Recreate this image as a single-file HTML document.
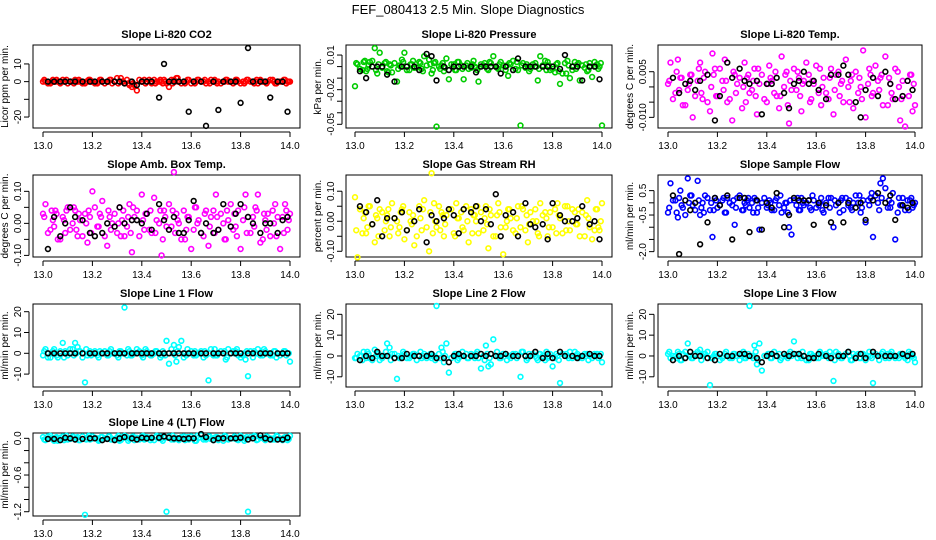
<!DOCTYPE html>
<html><head><meta charset="utf-8">
<style>
html,body{margin:0;padding:0;background:#fff;}
svg{display:block;font-family:"Liberation Sans",sans-serif;}
</style></head>
<body>
<svg id="chart" width="936" height="540" viewBox="0 0 936 540" xmlns="http://www.w3.org/2000/svg">
<text x="468" y="14" text-anchor="middle" font-size="13">FEF_080413  2.5 Min. Slope Diagnostics</text>
</svg>
<script>
const xTicks = [13.0, 13.2, 13.4, 13.6, 13.8, 14.0];
const xTickLabels = ["13.0", "13.2", "13.4", "13.6", "13.8", "14.0"];
const xs = [13.00,13.01,13.03,13.04,13.05,13.06,13.08,13.09,13.10,13.12,
13.13,13.14,13.15,13.17,13.18,13.19,13.20,13.22,13.23,13.24,
13.26,13.27,13.28,13.30,13.31,13.32,13.33,13.35,13.36,13.37,
13.38,13.40,13.41,13.42,13.44,13.45,13.46,13.48,13.49,13.50,
13.51,13.53,13.54,13.55,13.56,13.58,13.59,13.60,13.62,13.63,
13.64,13.66,13.67,13.68,13.70,13.71,13.72,13.74,13.75,13.76,
13.78,13.79,13.80,13.82,13.83,13.84,13.86,13.87,13.88,13.90,
13.91,13.92,13.94,13.95,13.96,13.98,13.99,14.00];
const xs2 = [13.005,13.02,13.035,13.045,13.055,13.07,13.085,13.095,13.11,13.125,
13.135,13.145,13.16,13.175,13.185,13.195,13.21,13.225,13.235,13.25,
13.265,13.275,13.29,13.305,13.315,13.325,13.34,13.345,13.355,13.365,
13.39,13.405,13.415,13.43,13.435,13.455,13.47,13.475,13.485,13.495,
13.52,13.525,13.535,13.545,13.57,13.575,13.585,13.61,13.615,13.625,
13.65,13.655,13.675,13.69,13.695,13.705,13.73,13.735,13.745,13.77,
13.775,13.785,13.81,13.815,13.825,13.85,13.855,13.865,13.89,13.895,
13.905,13.93,13.935,13.945,13.97,13.975,13.985,13.995];
const xb = [13.02,13.045,13.07,13.09,13.11,13.13,13.16,13.19,13.21,13.24,
13.26,13.29,13.31,13.33,13.36,13.38,13.40,13.42,13.44,13.47,
13.49,13.51,13.53,13.55,13.57,13.59,13.61,13.64,13.66,13.69,
13.71,13.73,13.76,13.78,13.80,13.83,13.85,13.88,13.90,13.92,
13.95,13.97,13.99];

const co2C = [0,0,-1,1,0,0,1,0,-1,0, 1,0,0,-1,0,1,0,-1,1,0, 0,1,-1,2,0,0,-1,-2,-3,-2, -5,0,1,0,-1,1,0,0,1,-1, -3,1,2,0,-1,0,1,-1,0,1, 0,-1,0,1,0,0,-1,1,0,0, 1,0,-1,0,1,0,0,-1,1,0, 0,1,-1,0,0,1,0,0];
const co2C2 = [1,-1,0,0,1,-1,0,1,0,-1, 0,1,-1,0,1,0,-1,0,1,-1, 0,1,0,-1,2,0,1,-1,0,-1, 1,0,-1,1,0,-1,0,1,-1,0, 1,-1,0,2,0,-1,1,0,-1,1, 0,1,-1,0,1,-1,0,0,1,-1, 0,1,0,-1,1,0,-1,1,0,0, -1,1,0,-1,0,1,-1,0];
const co2B = [0,0,0,0,0,0,0,0,0,0, 0,0,0,-1,0,-2,0,0,0,-9, 10,0,0,0,0,-17,0,0,-25,0, -16,0,0,0,-12,19,0,0,0,-9, 0,0,-17];
const presC = [-0.017,0.002,-0.003,0.005,-0.002,0.004,0.016,-0.006,0.012,0.003, -0.004,0.002,-0.005,-0.013,0.001,0.006,0.012,-0.003,0.002,-0.001, 0.004,-0.002,0.009,0.006,-0.006,0.003,-0.052,0.001,-0.004,0.007, -0.011,0.002,-0.003,0.004,-0.011,0.001,-0.002,0.005,-0.001,-0.013, 0.002,0.000,-0.003,0.003,0.009,-0.002,0.004,0.001,-0.008,0.002, 0.005,-0.003,-0.051,0.003,0.000,-0.002,0.002,-0.012,0.009,0.001, 0.004,-0.003,-0.002,0.003,-0.015,-0.006,0.005,-0.010,-0.003,0.002, -0.012,0.001,-0.004,0.003,-0.009,0.002,0.000,-0.051];
const presC2 = [0.003,-0.002,0.004,-0.004,0.001,0.005,-0.003,0.002,-0.001,0.004, -0.005,0.001,0.003,-0.002,0.000,0.004,-0.003,0.002,0.005,-0.001, 0.003,-0.004,0.001,0.002,-0.003,0.004,0.000,-0.002,0.003,-0.001, 0.002,-0.003,0.004,0.001,-0.002,0.003,-0.001,0.002,0.000,-0.003, 0.001,0.003,-0.002,0.004,0.000,-0.001,0.002,-0.003,0.001,0.003, -0.002,0.004,0.001,-0.001,0.002,-0.004,0.003,0.000,-0.002,0.005, -0.003,0.001,-0.005,0.002,-0.004,0.003,-0.006,0.001,0.004,-0.002, 0.003,-0.001,0.002,-0.003,0.004,0.000,-0.002,0.003];
const presB = [-0.004,-0.010,0,0,0,-0.007,-0.013,0,0,0, -0.003,0.011,0.009,-0.012,0,-0.003,0,0,0,0, -0.005,0,0,0,0,-0.006,0,-0.003,0.007,0, 0,0,0,0,0,-0.002,0.010,0,0,-0.012, 0,0,-0.011];
const tempC = [0.001,0.008,-0.002,0.009,0.003,-0.006,-0.001,0.004,-0.010,0.002, 0.008,-0.004,0.005,-0.008,0.011,0.006,-0.003,0.002,0.009,-0.005, -0.011,0.004,0.001,-0.007,0.008,0.003,-0.002,0.006,-0.009,0.001, 0.004,-0.005,0.007,0.002,-0.003,-0.007,0.010,0.005,-0.012,-0.001, 0.006,0.003,-0.008,0.002,0.008,-0.004,0.001,0.007,-0.006,0.003, -0.002,0.006,-0.009,0.004,0.001,-0.005,0.009,0.002,-0.007,0.005, 0.000,0.012,-0.010,0.004,-0.002,0.007,0.003,-0.006,0.010,0.001, -0.004,0.006,-0.011,0.002,-0.013,0.004,-0.008,-0.006];
const tempC2 = [0.002,-0.004,0.005,-0.001,0.003,-0.006,0.001,0.004,-0.003,0.006, -0.002,0.003,-0.005,0.000,0.004,-0.003,0.006,-0.001,0.002,-0.004, 0.005,-0.002,0.003,0.000,-0.005,0.004,-0.001,0.002,-0.003,0.006, -0.004,0.001,0.003,-0.002,0.005,-0.003,0.000,0.004,-0.006,0.002, -0.001,0.005,-0.003,0.001,0.004,-0.005,0.002,-0.002,0.006,0.000, -0.004,0.003,-0.001,0.005,-0.003,0.002,0.000,-0.005,0.004,-0.002, 0.003,-0.004,0.001,0.006,-0.003,0.002,-0.001,0.004,-0.006,0.003, -0.002,0.005,0.000,-0.004,0.002,-0.003,0.004,0.001];
const tempB = [0.003,-0.002,0.001,0.002,-0.001,0.002,0.004,-0.011,-0.003,0.008, 0.003,0.006,0.002,0.001,0.002,-0.009,0.001,0.001,0.003,-0.002, -0.007,0.001,0.002,0.005,0.001,0.002,-0.001,-0.004,0.004,0.004, 0.007,0.004,-0.005,-0.010,-0.001,0.003,-0.003,0.005,0.001,-0.004, -0.003,0.002,-0.001];
const ambC = [0.03,0.06,-0.02,0.01,0.04,-0.05,0.02,-0.03,0.05,0.00, 0.04,-0.04,0.01,0.03,-0.06,0.02,0.10,-0.01,0.03,0.07, -0.07,0.02,0.00,-0.03,0.05,0.01,-0.04,0.06,-0.09,0.02, 0.04,0.09,-0.02,0.03,-0.03,0.08,0.01,-0.10,0.04,-0.01, 0.06,0.16,0.03,0.00,-0.05,-0.02,0.02,-0.08,0.05,0.01, -0.03,0.04,-0.07,0.02,0.09,-0.02,0.03,-0.05,0.01,0.06, -0.01,0.04,-0.08,0.09,0.02,-0.03,0.05,0.09,-0.06,0.01, 0.03,-0.04,0.06,0.02,-0.08,0.06,-0.02,0.03];
const ambC2 = [0.02,-0.03,0.04,-0.01,0.03,-0.05,0.01,0.04,-0.02,0.05, -0.02,0.03,-0.04,0.00,0.04,-0.03,0.05,-0.01,0.02,-0.04, 0.04,-0.02,0.03,0.00,-0.04,0.04,-0.01,0.02,-0.03,0.05, -0.04,0.01,0.03,-0.02,0.04,-0.03,0.00,0.04,-0.05,0.02, -0.01,0.04,-0.03,0.01,0.04,-0.05,0.02,-0.02,0.05,0.00, -0.04,0.03,-0.01,0.04,-0.03,0.02,0.00,-0.05,0.04,-0.02, 0.03,-0.04,0.01,0.05,-0.03,0.02,-0.01,0.04,-0.05,0.03, -0.02,0.04,0.00,-0.04,0.02,-0.03,0.04,0.01];
const ambB = [-0.08,0.02,-0.04,0.00,0.05,0.02,0.01,-0.03,-0.04,-0.03, 0.00,-0.01,0.05,0.00,0.01,0.01,0.00,0.03,-0.02,0.06, 0.01,-0.02,0.02,-0.03,-0.03,0.01,0.07,-0.03,0.00,-0.03, -0.02,0.06,-0.01,0.03,0.06,0.02,0.00,-0.03,0.00,0.00, -0.03,0.01,0.02];
const rhC = [0.08,-0.12,-0.04,0.03,-0.02,0.05,-0.07,0.01,0.04,-0.03, 0.02,-0.05,0.06,0.00,-0.02,0.04,-0.06,0.03,-0.01,-0.08, 0.05,-0.03,0.07,-0.10,0.16,0.06,-0.02,0.03,-0.05,0.02, 0.04,-0.04,0.06,0.01,-0.03,0.05,-0.07,0.02,0.00,-0.04, 0.03,0.05,-0.09,0.02,-0.05,0.06,-0.02,-0.11,0.04,0.01, -0.03,0.05,-0.02,0.04,-0.07,0.03,0.00,-0.04,0.06,0.02, -0.05,0.03,-0.02,0.06,0.01,-0.04,0.05,-0.03,0.04,-0.01, -0.05,0.03,0.07,-0.02,-0.06,0.04,-0.03,0.06];
const rhC2 = [-0.03,0.04,0.01,-0.04,0.05,-0.01,0.02,-0.05,0.03,0.00, 0.04,-0.02,0.01,-0.04,0.03,0.05,-0.03,0.00,0.02,-0.05, 0.01,0.04,-0.02,0.03,-0.04,0.00,0.05,-0.03,0.02,-0.01, 0.04,-0.05,0.01,0.03,-0.02,0.00,0.04,-0.04,0.02,0.05, -0.03,0.01,-0.01,0.04,-0.05,0.02,0.03,-0.02,0.00,0.04, -0.04,0.01,0.05,-0.03,0.02,-0.01,0.04,0.00,-0.05,0.03, 0.01,-0.02,0.04,-0.04,0.02,0.05,-0.03,0.00,0.03,-0.01, 0.04,-0.05,0.02,0.01,-0.03,0.04,-0.02,0.00];
const rhB = [0.05,0.03,-0.01,0.07,-0.05,0.01,0.01,0.03,-0.03,0.00, 0.04,-0.07,0.02,0.00,0.01,0.04,0.02,-0.04,0.04,0.03, 0.05,0.00,0.04,-0.01,0.09,-0.05,0.02,0.03,-0.05,0.06, -0.01,-0.02,-0.01,-0.06,0.06,0.02,0.00,0.00,0.01,0.05, -0.01,0.00,-0.06];
const sampC = [-0.4,0.8,0.1,-0.6,0.5,-0.2,1.0,0.3,-0.1,0.9, -0.5,0.0,0.3,-0.3,-1.4,0.2,-0.2,0.1,-0.4,0.2, -0.1,-0.9,0.2,-0.3,0.0,0.1,-0.2,0.2,-0.4,-1.1, 0.0,-0.2,0.1,-0.3,0.2,-0.1,-0.4,0.0,-1.0,-1.3, 0.1,-0.3,0.2,-0.1,0.0,-0.3,0.1,-0.2,0.2,-0.4, 0.0,0.2,-1.0,-0.1,0.1,-0.3,0.2,-0.2,0.0,0.3, -0.4,0.1,-0.8,0.2,-1.4,0.3,0.8,1.0,0.6,-0.2, 0.4,-1.5,-0.1,0.2,-0.3,0.1,-0.2,0.0];
const sampC2 = [-0.2,0.1,-0.4,0.2,-0.1,-0.5,0.0,0.3,-0.3,0.1, -0.2,-0.4,0.2,0.0,-0.3,0.1,-0.1,0.2,-0.4,0.0, 0.1,-0.2,0.3,-0.3,-0.1,0.2,0.0,-0.4,0.1,-0.2, 0.2,-0.1,0.0,-0.3,0.1,0.3,-0.2,0.0,-0.4,0.1, -0.1,0.2,-0.3,0.0,0.1,-0.2,0.3,-0.1,0.0,-0.3, 0.2,-0.2,0.1,0.0,-0.4,0.2,-0.1,0.1,-0.3,0.0, 0.3,-0.2,0.1,-0.1,0.4,0.0,-0.3,0.2,-0.2,0.1, 0.0,-0.4,0.2,-0.1,0.1,-0.3,0.2,-0.1];
const sampB = [0.3,-2.1,0.1,-0.3,0.0,-1.7,-0.8,0.2,-0.1,0.3, -1.5,0.2,0.2,-1.2,0.1,-1.1,0.0,-0.2,0.4,-1.0, -0.5,0.2,0.1,0.1,0.1,-0.9,0.0,-0.1,-0.8,0.0, -0.8,0.0,-0.2,0.0,-0.7,0.1,0.4,0.0,0.3,-0.7, -0.1,-0.2,0.0];
const l1C = [-1,2,-2,1,0,-2,5,1,-1,2, 5,3,1,-14,-1,1,0,-1,1,0, -1,1,0,-1,1,0,22,1,-1,0, 2,-1,0,1,-1,0,1,-1,0,6, -5,4,-4,3,6,-1,0,1,-1,0, 1,-1,-13,2,-1,0,1,-3,2,0, 1,-1,-2,-3,-11,1,0,2,-1,1, 0,-1,1,0,-1,1,0,-4];
const l1C2 = [1,-2,0,2,-1,1,-2,0,2,-1, 0,1,-2,2,0,-1,1,-2,0,1, -1,2,0,-2,1,0,-1,2,-1,0, 1,-2,2,0,-1,1,0,-2,1,-1, 2,0,-1,1,-2,0,2,-1,1,0, -2,1,0,-1,2,-1,0,1,-2,1, 0,2,-1,0,1,-2,1,0,-1,2, 0,-1,1,-2,0,1,-1,0];
const l1B = [0,0,0,0,0,0,0,0,0,0, 0,0,0,0,0,0,0,0,0,0, 0,0,0,0,0,0,0,0,0,0, 0,0,0,0,0,0,0,0,0,0, 0,0,0];
const l2C = [-1,1,-2,0,2,-1,3,1,-2,0, 6,4,1,-11,-1,0,1,-1,0,1, 0,-1,1,0,-1,0,24,4,-3,6, -8,0,1,-1,0,1,-1,0,1,-1, -6,5,-5,-4,8,0,-1,1,0,-1, 1,0,-10,2,-1,0,1,-2,1,0, -1,1,-5,0,-13,1,0,2,-1,1, 0,-1,1,0,-1,1,0,-3];
const l2C2 = [-1,0,2,-1,1,-2,0,1,-1,2, 0,-2,1,0,-1,2,-1,0,1,-2, 2,0,-1,1,0,-2,1,-1,2,0, -1,1,-2,0,2,-1,1,0,-1,2, 0,-2,1,-1,0,2,-1,1,-2,0, 1,-1,2,0,-2,1,0,-1,1,-2, 2,0,-1,1,-2,0,1,-1,2,0, -1,1,0,-2,1,0,-1,1];
const l2B = [-2,0,-1,2,0,0,-1,-1,1,0, 0,0,1,-1,-1,-3,0,1,0,0, 0,1,0,1,0,0,1,0,0,0, 0,2,-1,1,-1,2,0,0,-1,0, 1,0,0];
const l3C = [1,-1,0,2,-2,1,6,0,-1,2, 3,0,1,-14,-1,1,0,-1,1,0, -1,1,0,1,-1,0,24,5,-4,6, -7,0,1,-1,0,1,-1,0,1,0, 7,1,-1,0,-2,1,0,-1,1,0, 1,0,-12,2,-1,0,1,-2,1,0, -1,1,-2,0,-13,1,0,2,-1,1, 0,-1,1,0,-1,1,0,-3];
const l3C2 = [2,0,-1,1,-2,2,0,-1,1,0, -2,1,2,-1,0,1,-2,0,2,-1, 1,0,-2,2,-1,1,0,-1,2,-2, 0,1,-1,2,0,-2,1,0,-1,2, 1,-1,0,2,-2,1,0,-1,2,0, -1,2,-2,1,0,-1,2,0,-2,1, -1,1,0,2,-1,0,-2,1,1,-1, 2,0,-1,1,-2,2,0,-1];
const l3B = [-2,0,-1,2,0,0,-1,-2,1,0, 0,1,1,0,-1,-3,0,1,0,1, 0,1,1,0,-1,-1,1,0,-1,0, 0,2,-1,1,-1,2,0,0,0,0, 1,0,1];
const l4C = [0.02,-0.03,0.04,-0.02,0.01,-0.04,0.03,0.00,-0.02,0.03, -0.01,0.02,-0.03,-1.25,0.01,-0.02,0.03,0.00,-0.03,0.02, -0.01,0.03,-0.02,0.01,-0.04,0.02,0.04,-0.01,0.02,-0.03, 0.01,0.03,-0.02,0.02,0.00,-0.03,0.04,-0.01,0.02,-1.20, 0.03,-0.02,0.01,-0.03,0.02,0.00,-0.02,0.03,-0.04,0.01, 0.05,-0.02,0.03,-0.01,0.02,-0.03,0.01,0.03,-0.02,0.00, 0.02,-0.03,0.04,-0.01,-1.20,0.02,0.03,-0.02,0.01,-0.03, 0.02,0.00,-0.02,0.03,-0.01,0.02,-0.03,0.04];
const l4C2 = [-0.02,0.03,0.00,-0.04,0.02,0.01,-0.03,0.04,-0.01,0.02, 0.00,-0.03,0.03,-0.02,0.04,-0.01,0.01,-0.04,0.02,0.00, 0.03,-0.02,-0.01,0.04,-0.03,0.01,0.02,-0.04,0.00,0.03, -0.02,0.04,-0.01,0.01,-0.03,0.02,0.00,0.03,-0.04,0.01, -0.02,0.04,0.00,-0.01,0.03,-0.03,0.02,0.01,-0.04,0.04, -0.02,0.00,0.03,-0.03,0.01,0.02,-0.04,0.04,-0.01,0.00, 0.03,-0.02,0.01,-0.04,0.02,0.00,0.04,-0.03,0.01,-0.01, 0.03,-0.02,0.00,0.04,-0.03,0.01,0.02,-0.01];
const l4B = [-0.01,-0.01,-0.03,0.01,0.00,-0.02,-0.01,0.00,0.00,-0.03, -0.01,-0.03,0.00,0.02,0.00,-0.02,0.01,0.00,0.01,0.01, 0.03,0.01,0.00,0.00,-0.01,0.00,0.00,0.07,0.02,-0.03, 0.00,0.00,0.00,0.00,0.01,-0.02,0.00,0.05,0.00,-0.02, -0.02,-0.02,0.01];

const titles = ["Slope Li-820 CO2","Slope Li-820 Pressure","Slope Li-820 Temp.","Slope Amb. Box Temp.","Slope Gas Stream RH","Slope Sample Flow","Slope Line 1 Flow","Slope Line 2 Flow","Slope Line 3 Flow","Slope Line 4 (LT) Flow"];
const yTitles = ["Licor ppm per min.","kPa per min.","degrees C per min.","degrees C per min.","percent per min.","ml/min per min.","ml/min per min.","ml/min per min.","ml/min per min.","ml/min per min."];
const yTicks = [[-20,-10,0,10],[-0.05,-0.04,-0.03,-0.02,-0.01,0,0.01],[-0.010,-0.005,0,0.005],[-0.10,-0.05,0,0.05,0.10],[-0.10,-0.05,0,0.05,0.10],[-2.0,-1.5,-1.0,-0.5,0,0.5],[-10,0,10,20],[-10,0,10,20],[-10,0,10,20],[-1.2,-1.0,-0.8,-0.6,-0.4,-0.2,0]];
const yTickLabels = [["-20","","0","10"],["-0.05","","","-0.02","","","0.01"],["-0.010","","","0.005"],["-0.10","","0.00","","0.10"],["-0.10","","0.00","","0.10"],["-2.0","","","-0.5","","0.5"],["-10","0","10","20"],["-10","0","10","20"],["-10","0","10","20"],["-1.2","","","-0.6","","","0.0"]];
const colorSeries = [co2C,presC,tempC,ambC,rhC,sampC,l1C,l2C,l3C,l4C];
const colorSeries2 = [co2C2,presC2,tempC2,ambC2,rhC2,sampC2,l1C2,l2C2,l3C2,l4C2];
const blackSeries = [co2B,presB,tempB,ambB,rhB,sampB,l1B,l2B,l3B,l4B];
const colors = ["#ff0000","#00cc00","#ff00ff","#ff00ff","#ffff00","#0000ff","#00ffff","#00ffff","#00ffff","#00ffff"];
const yLims = [[-26.2,20.7],[-0.0532,0.0187],[-0.0135,0.01378],[-0.105,0.151],[-0.119,0.154],[-2.22,1.14],[-16.2,23.7],[-14.9,24.96],[-14.9,24.96],[-1.27,0.087]];

const NS = "http://www.w3.org/2000/svg";
const svg = document.getElementById("chart");
const cols = [{l:33,r:300,x0:43,x1:290},{l:346,r:612,x0:355,x1:602},{l:658,r:922,x0:668,x1:915}];
const rows = [{t:45,b:128},{t:175,b:257},{t:304,b:387},{t:433,b:516}];
function mk(tag, attrs, parent){const e=document.createElementNS(NS,tag);for(const k in attrs)e.setAttribute(k,attrs[k]);(parent||svg).appendChild(e);return e;}

for(let p=0;p<10;p++){
  const c=cols[p%3], r=rows[Math.floor(p/3)];
  const g=mk("g",{});
  
  
  const xScale=v=>c.x0+(v-13)*(c.x1-c.x0);
  const [ymin,ymax]=yLims[p];
  const yScale=v=>r.b-(v-ymin)/(ymax-ymin)*(r.b-r.t);
  const t=mk("text",{x:(c.l+c.r)/2,y:r.t-7,"text-anchor":"middle","font-size":"11","font-weight":"bold"},g);
  t.textContent=titles[p];
  
  
  const yt=mk("text",{x:0,y:0,"text-anchor":"middle","font-size":"10",transform:`translate(${c.l-25},${(r.t+r.b)/2}) rotate(-90)`},g);
  yt.textContent=yTitles[p];
  
  
  mk("line",{x1:c.x0,x2:c.x1,y1:r.b+4,y2:r.b+4,stroke:"#000","stroke-width":1},g);
  xTicks.forEach((v,i)=>{
    const x=xScale(v);
    mk("line",{x1:x,x2:x,y1:r.b+4,y2:r.b+9,stroke:"#000"},g);
    const tl=mk("text",{x:x,y:r.b+21,"text-anchor":"middle","font-size":"10"},g);
    tl.textContent=xTickLabels[i];
    
    
  });
  const yt0=yTicks[p];
  mk("line",{x1:c.l-4,x2:c.l-4,y1:yScale(yt0[0]),y2:yScale(yt0[yt0.length-1]),stroke:"#000"},g);
  yt0.forEach((v,i)=>{
    const y=yScale(v);
    mk("line",{x1:c.l-9,x2:c.l-4,y1:y,y2:y,stroke:"#000"},g);
    if(yTickLabels[p][i]){
      const tl=mk("text",{x:0,y:0,"text-anchor":"middle","font-size":"10",transform:`translate(${c.l-12},${y}) rotate(-90)`},g);
      tl.textContent=yTickLabels[p][i];
      
      
    }
  });
  const box=mk("rect",{x:c.l,y:r.t,width:c.r-c.l,height:r.b-r.t,fill:"none",stroke:"#000","stroke-width":1},g);
  
  
  const cs2=colorSeries2[p];
  cs2.forEach((v,i)=>{
    if(i>=xs2.length) return;
    const pt=mk("circle",{cx:xScale(xs2[i]),cy:yScale(v),r:2.4,fill:"none",stroke:colors[p],"stroke-width":1.6},g);
    
    
  });
  const cs=colorSeries[p];
  cs.forEach((v,i)=>{
    if(i>=xs.length) return;
    const pt=mk("circle",{cx:xScale(xs[i]),cy:yScale(v),r:2.4,fill:"none",stroke:colors[p],"stroke-width":1.6},g);
    
    
  });
  const bs=blackSeries[p];
  bs.forEach((v,i)=>{
    if(i>=xb.length) return;
    const pt=mk("circle",{cx:xScale(xb[i]),cy:yScale(v),r:2.4,fill:"none",stroke:"#000","stroke-width":1.6},g);
    
    
  });
}
</script>
</body></html>
